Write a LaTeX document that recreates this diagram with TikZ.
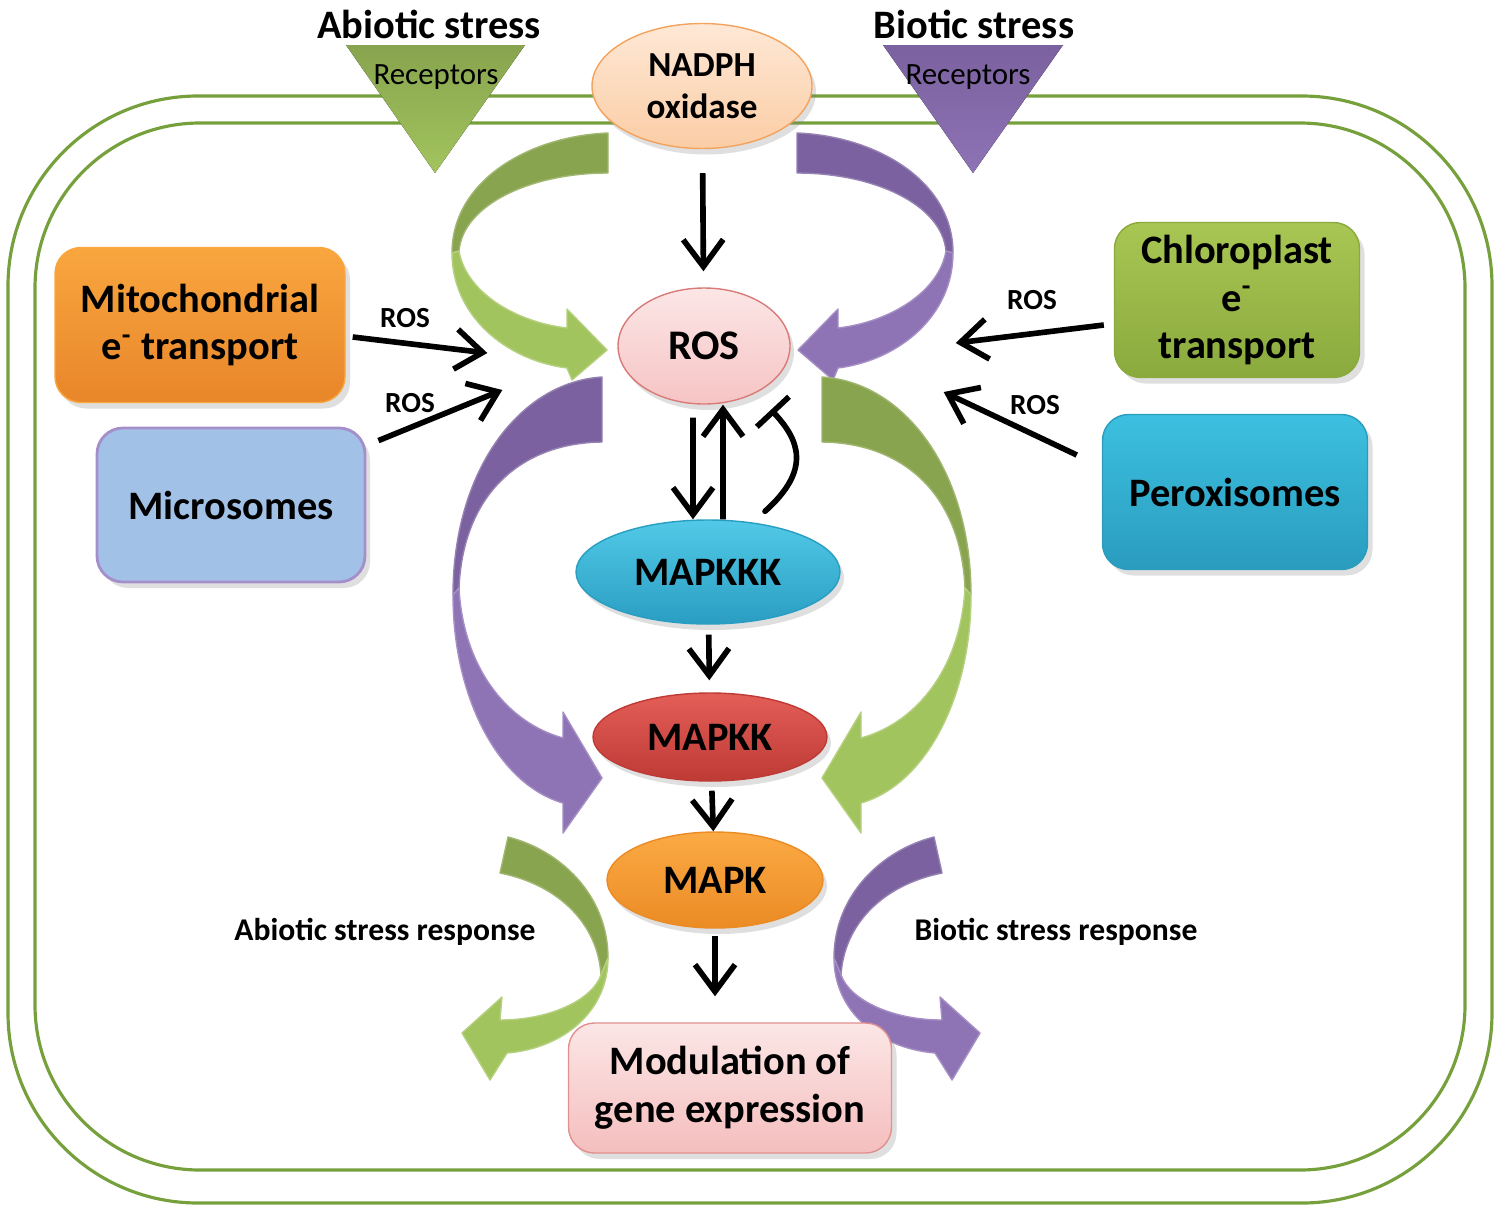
\documentclass[tikz,border=0pt]{standalone}
\usepackage{fontspec}
\setmainfont{Carlito}
\usetikzlibrary{positioning}
\usetikzlibrary{shapes.geometric}
\usetikzlibrary{arrows.meta}
\usetikzlibrary{shadows}

\definecolor{cellgreen}{HTML}{76A03C}
\definecolor{gdark}{HTML}{88A44E}
\definecolor{glight}{HTML}{A2C45E}
\definecolor{pdark}{HTML}{7B619F}
\definecolor{plight}{HTML}{8E73B5}
\definecolor{nadphtop}{HTML}{FEE8D6}
\definecolor{nadphbot}{HTML}{FBCDA5}
\definecolor{nadphline}{HTML}{F3A35E}
\definecolor{rostop}{HTML}{FCE6E6}
\definecolor{rosbot}{HTML}{F6C4C4}
\definecolor{rosline}{HTML}{D97B78}
\definecolor{kkktop}{HTML}{52C9E7}
\definecolor{kkkbot}{HTML}{2A9EC2}
\definecolor{kktop}{HTML}{E35E57}
\definecolor{kkbot}{HTML}{BE3A35}
\definecolor{ktop}{HTML}{FBAA45}
\definecolor{kbot}{HTML}{EB8B24}
\definecolor{mitotop}{HTML}{F9A63F}
\definecolor{mitobot}{HTML}{E8862A}
\definecolor{microfill}{HTML}{A2C1E7}
\definecolor{microline}{HTML}{A58FCB}
\definecolor{chlortop}{HTML}{A8C653}
\definecolor{chlorbot}{HTML}{8BAA3E}
\definecolor{peroxtop}{HTML}{3CC0E0}
\definecolor{peroxbot}{HTML}{2A9CBE}
\definecolor{modtop}{HTML}{FCE6E6}
\definecolor{modbot}{HTML}{F5BEBE}
\definecolor{modline}{HTML}{E0908E}

% ribbon arrows, drawn once and mirrored
\newcommand{\ribTop}[2]{%
	\filldraw[ribbon=#1] (608,133) .. controls (530,136) and (452,180) .. (452,253)
		-- (459,251) .. controls (463,205) and (530,173) .. (608,173) -- cycle;
	\filldraw[ribbon=#2] (452,253) .. controls (452,315) and (505,360) .. (567,368)
		-- (572,380) -- (607,350) -- (567,309) -- (567,328)
		.. controls (515,322) and (466,292) .. (459,251) -- cycle;
}
\newcommand{\ribMid}[2]{%
	\filldraw[ribbon=#1] (602,377) .. controls (520,382) and (453,470) .. (453,595)
		-- (459,588) .. controls (463,495) and (520,443) .. (602,442) -- cycle;
	\filldraw[ribbon=#2] (453,595) .. controls (453,700) and (500,785) .. (563,803)
		-- (563,833) -- (602,778) -- (563,712) -- (563,738)
		.. controls (505,722) and (463,665) .. (459,588) -- cycle;
}
\newcommand{\ribLow}[2]{%
	\filldraw[ribbon=#1] (508,837) .. controls (560,850) and (608,895) .. (608,958)
		-- (601,975) .. controls (598,925) and (560,885) .. (500,873) -- cycle;
	\filldraw[ribbon=#2] (608,958) .. controls (608,1010) and (565,1048) .. (507,1053)
		-- (490,1080) -- (462,1033) -- (502,997) -- (500,1020)
		.. controls (550,1020) and (592,1000) .. (601,975) -- cycle;
}

\begin{document}
\begin{tikzpicture}[x=0.1mm, y=-0.1mm,
	cell/.style={draw=cellgreen, line width=0.9pt},
	ribbon/.style={fill=#1, draw=#1!80!white, line width=0.4pt, line join=round},
	kinase/.style={ellipse, inner sep=0pt, align=center,
		font=\bfseries\fontsize{11.5}{13.5}\selectfont,
		drop shadow={opacity=0.25, shadow xshift=0.4mm, shadow yshift=-0.6mm}},
	organelle/.style={rectangle, rounded corners=2.6mm, inner sep=0pt, align=center,
		font=\bfseries\fontsize{11.5}{13.6}\selectfont,
		drop shadow={opacity=0.25, shadow xshift=0.5mm, shadow yshift=-0.6mm}},
	roslabel/.style={font=\bfseries\fontsize{8.3}{10}\selectfont, inner sep=0pt},
	stresslabel/.style={font=\bfseries\fontsize{11.5}{13}\selectfont, inner sep=0pt},
	reclabel/.style={font=\fontsize{8.8}{10}\selectfont, inner sep=0pt},
	arr/.style={-{Straight Barb[length=2.7mm, width=4mm]}, line width=1.6pt},
	inhib/.style={-{Bar[width=4.4mm]}, line width=1.6pt, line cap=round}]
	\useasboundingbox (0,0) rectangle (1500,1211);

	% Cell wall & membrane
	\draw[cell, rounded corners=19mm] (8,96) rectangle (1492,1203);
	\draw[cell, rounded corners=16.5mm] (35,123) rectangle (1465,1170);

	% Ribbon arrows
	\ribTop{gdark}{glight}
	\begin{scope}[shift={(1405,0)}, xscale=-1] \ribTop{pdark}{plight} \end{scope}
	\ribMid{pdark}{plight}
	\begin{scope}[shift={(1424,0)}, xscale=-1] \ribMid{gdark}{glight} \end{scope}
	\ribLow{gdark}{glight}
	\begin{scope}[shift={(1442,0)}, xscale=-1] \ribLow{pdark}{plight} \end{scope}

	% Receptors
	\fill[top color=gdark, bottom color=glight] (346,45) -- (525,45) -- (435,173) -- cycle;
	\fill[top color=pdark, bottom color=plight] (883,45) -- (1063,45) -- (973,173) -- cycle;
	\node[stresslabel] (abio) at (429,24) {Abiotic stress};
	\node[stresslabel] (bio) at (974,24) {Biotic stress};
	\node[reclabel] (abiorec) at (436,77) {Receptors};
	\node[reclabel] (biorec) at (968,77) {Receptors};

	% Ellipses
	\node[kinase, minimum width=22mm, minimum height=12.5mm, top color=nadphtop, bottom color=nadphbot, draw=nadphline,
		font=\bfseries\fontsize{10}{12}\selectfont] (nadph) at (702,86) {NADPH\\oxidase};
	\node[kinase, minimum width=17.2mm, minimum height=11.6mm, top color=rostop, bottom color=rosbot, draw=rosline,
		font=\bfseries\fontsize{12}{14}\selectfont] (ros) at (704,346) {ROS};
	\node[kinase, minimum width=26.4mm, minimum height=10.4mm, top color=kkktop, bottom color=kkkbot, draw=kkkbot] (mapkkk) at (708,572) {MAPKKK};
	\node[kinase, minimum width=23.4mm, minimum height=8.8mm, top color=kktop, bottom color=kkbot, draw=kkbot] (mapkk) at (710,737) {MAPKK};
	\node[kinase, minimum width=21.6mm, minimum height=9.6mm, top color=ktop, bottom color=kbot, draw=kbot] (mapk) at (715,880) {MAPK};

	% Organelles
	\node[organelle, minimum width=29mm, minimum height=15.5mm, top color=mitotop, bottom color=mitobot, draw=mitotop] (mito) at (200,325) {Mitochondrial\\e\textsuperscript{-} transport};
	\node[organelle, minimum width=26.8mm, minimum height=15.4mm, fill=microfill, draw=microline, line width=0.8pt] (micro) at (231,505) {Microsomes};
	\node[organelle, minimum width=24.5mm, minimum height=15.5mm, top color=chlortop, bottom color=chlorbot, draw=chlorbot] (chloro) at (1237,300) {Chloroplast\\e\textsuperscript{-}\\transport};
	\node[organelle, minimum width=26.5mm, minimum height=15.5mm, top color=peroxtop, bottom color=peroxbot, draw=peroxbot] (perox) at (1235,492) {Peroxisomes};
	\node[organelle, minimum width=32.3mm, minimum height=13mm, top color=modtop, bottom color=modbot, draw=modline] (modul) at (730,1088) {Modulation of\\gene expression};

	% ROS from organelles
	\draw[arr] ([xshift=0.7mm, yshift=-1.2mm]mito.east) -- ([xshift=-13mm, yshift=-0.7mm]ros.west);
	\draw[arr] ([xshift=1.2mm, yshift=-1.4mm]micro.north east) -- ([xshift=-11.5mm, yshift=-4.4mm]ros.west);
	\draw[arr] ([xshift=-1mm, yshift=-2.5mm]chloro.west) -- ([xshift=16.5mm, yshift=0.3mm]ros.east);
	\draw[arr] ([xshift=-2.5mm, yshift=3.7mm]perox.west) -- ([xshift=15.3mm, yshift=-4.6mm]ros.east);
	\node[roslabel] (rosA) at (405,318) {ROS};
	\node[roslabel] (rosB) at (410,403) {ROS};
	\node[roslabel] (rosC) at (1032,300) {ROS};
	\node[roslabel] (rosD) at (1035,405) {ROS};

	% Cascade
	\draw[arr, shorten <=2.4mm, shorten >=1.6mm] (nadph) -- (ros);
	\draw[arr, shorten <=1.3mm] ([xshift=-1.1mm]ros.south) -- ([xshift=-1.5mm]mapkkk.north);
	\draw[arr] ([xshift=1.5mm]mapkkk.north) -- ([xshift=1.9mm]ros.south);
	\draw[inhib] ([xshift=5.7mm, yshift=0.8mm]mapkkk.north) .. controls +(47,-42) and +(28,30) .. ([xshift=6.7mm, yshift=-0.5mm]ros.south);
	\draw[arr, shorten <=1mm, shorten >=1.2mm] (mapkkk) -- (mapkk);
	\draw[arr, shorten <=0.9mm] (mapkk) -- (mapk);
	\draw[arr, shorten <=0.7mm, shorten >=2.6mm] (mapk.south) -- (mapk.south |- modul.north);

	% Responses
	\node[font=\bfseries\fontsize{9}{11}\selectfont] (abioresp) at (385,932) {Abiotic stress response};
	\node[font=\bfseries\fontsize{9}{11}\selectfont] (bioresp) at (1056,932) {Biotic stress response};
\end{tikzpicture}
\end{document}
